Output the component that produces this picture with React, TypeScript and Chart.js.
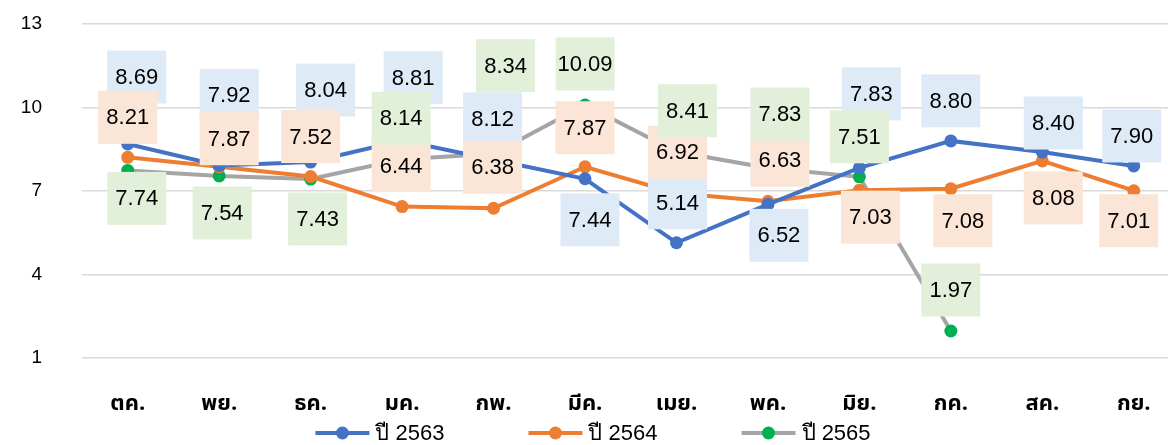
import React, { useEffect, useRef } from "react";
import { Chart, registerables } from "chart.js";

Chart.register(...registerables);

// ---- data ----
const months = ["ตค.", "พย.", "ธค.", "มค.", "กพ.", "มีค.", "เมย.", "พค.", "มิย.", "กค.", "สค.", "กย."];
const seriesNames = ["ปี 2563", "ปี 2564", "ปี 2565"];
const values2563 = [8.69, 7.92, 8.04, 8.81, 8.12, 7.44, 5.14, 6.52, 7.83, 8.8, 8.4, 7.9];
const values2564 = [8.21, 7.87, 7.52, 6.44, 6.38, 7.87, 6.92, 6.63, 7.03, 7.08, 8.08, 7.01];
const values2565 = [7.74, 7.54, 7.43, 8.14, 8.34, 10.09, 8.41, 7.83, 7.51, 1.97, null, null];
const yMin = 1;
const yMax = 13;
const yStep = 3;

// ---- styling: data-label offsets (dx, dy) relative to each point ----
const labelOffsets2563 = [[9, -67], [10, -70], [15, -72], [11, -63], [-1, -41], [5, 41], [1, -40], [11, 31], [12, -74], [0, -40], [11, -29], [-2, -30]];
const labelOffsets2564 = [[0, -40], [10, -28], [0, -40], [-1, -41], [-1, -41], [0, -39], [1, -41], [12, -41], [11, 27], [12, 32], [11, 37], [-5, 30]];
const labelOffsets2565 = [[9, 28], [3, 37], [7, 40], [-1, -41], [12, -88], [0, -41], [11, -41], [12, -54], [0, -40], [0, -41], [0, 0], [0, 0]];

const lineColors = ["#4472C4", "#ED7D31", "#A5A5A5"];
const pointColors = ["#4472C4", "#ED7D31", "#00B050"];
const labelBg = ["#DEEBF7", "#FBE5D6", "#E2F0D9"];
const latinFont = "'Liberation Sans', Arial, sans-serif";
const thaiFont = "'Noto Sans Thai', 'Noto Sans', 'Liberation Sans', sans-serif";

const labelPlugin = {
  id: "boxLabels",
  afterDatasetsDraw(chart: any) {
    const ctx = chart.ctx;
    const offsets = [labelOffsets2563, labelOffsets2564, labelOffsets2565];
    ctx.save();
    chart.data.datasets.forEach((ds: any, di: number) => {
      const meta = chart.getDatasetMeta(di);
      meta.data.forEach((pt: any, i: number) => {
        const v = ds.data[i];
        if (v === null || v === undefined) return;
        const [dx, dy] = offsets[di][i];
        const cx = pt.x + dx;
        const cy = pt.y + dy;
        const w = 59;
        const h = 53;
        ctx.fillStyle = labelBg[di];
        ctx.fillRect(cx - w / 2, cy - h / 2, w, h);
        ctx.fillStyle = "#000";
        ctx.font = `22px ${latinFont}`;
        ctx.textAlign = "center";
        ctx.textBaseline = "middle";
        ctx.fillText(Number(v).toFixed(2), cx, cy + 1);
      });
    });
    ctx.restore();
  },
};

const legendPlugin = {
  id: "customLegend",
  afterDraw(chart: any) {
    const ctx = chart.ctx;
    ctx.save();
    ctx.font = `22px ${latinFont}`;
    const lineW = 54;
    const gapText = 6;
    const gapItem = 84;
    const widths = seriesNames.map((n) => ctx.measureText(n).width);
    const total = widths.reduce((a, b) => a + b + lineW + gapText, 0) + gapItem * (seriesNames.length - 1);
    let x = chart.width / 2 - total / 2;
    const y = 433;
    seriesNames.forEach((name, i) => {
      ctx.strokeStyle = lineColors[i];
      ctx.lineWidth = 4;
      ctx.beginPath();
      ctx.moveTo(x, y);
      ctx.lineTo(x + lineW, y);
      ctx.stroke();
      ctx.fillStyle = pointColors[i];
      ctx.beginPath();
      ctx.arc(x + lineW / 2, y, 6.5, 0, Math.PI * 2);
      ctx.fill();
      ctx.fillStyle = "#000";
      ctx.textAlign = "left";
      ctx.textBaseline = "middle";
      ctx.fillText(name, x + lineW + gapText, y + 1);
      x += lineW + gapText + widths[i] + gapItem;
    });
    ctx.restore();
  },
};

export default function App() {
  const ref = useRef<HTMLCanvasElement | null>(null);

  useEffect(() => {
    document.body.style.margin = "0";
    const canvas = ref.current;
    if (!canvas) return;
    const seriesValues = [values2563, values2564, values2565];
    const chart = new Chart(canvas, {
      type: "line",
      data: {
        labels: months,
        datasets: seriesValues.map((vals, i) => ({
          label: seriesNames[i],
          data: vals,
          borderColor: lineColors[i],
          backgroundColor: pointColors[i],
          pointBackgroundColor: pointColors[i],
          pointBorderColor: pointColors[i],
          borderWidth: 4,
          pointRadius: 6.5,
          pointBorderWidth: 0,
          tension: 0,
          spanGaps: false,
        })),
      },
      options: {
        responsive: false,
        animation: false,
        devicePixelRatio: 1,
        layout: { padding: { top: 24, right: 0, bottom: 28, left: 0 } },
        plugins: {
          legend: { display: false },
          tooltip: { enabled: false },
        },
        scales: {
          x: {
            offset: true,
            grid: { display: false, drawTicks: false },
            border: { display: false },
            ticks: {
              color: "#000",
              padding: 34,
              font: { family: thaiFont, size: 22, weight: "bold" },
              maxRotation: 0,
              autoSkip: false,
            },
            afterFit(scale: any) {
              scale.height = 59;
              scale.paddingLeft = 0;
              scale.paddingRight = 0;
            },
          },
          y: {
            min: yMin,
            max: yMax,
            grid: { color: "#D9D9D9", lineWidth: 1.5, drawTicks: false },
            border: { display: false },
            ticks: {
              stepSize: yStep,
              color: "#000",
              padding: 40,
              font: { family: latinFont, size: 19 },
            },
            afterFit(scale: any) {
              scale.width = 82;
              scale.paddingTop = 0;
              scale.paddingBottom = 0;
            },
          },
        },
      },
      plugins: [labelPlugin, legendPlugin],
    });
    return () => chart.destroy();
  }, []);

  return (
    <div style={{ width: 1168, height: 445, overflow: "hidden", position: "relative", background: "#fff" }}>
      <canvas ref={ref} width={1186} height={445} style={{ display: "block", width: 1186, height: 445 }} />
    </div>
  );
}
